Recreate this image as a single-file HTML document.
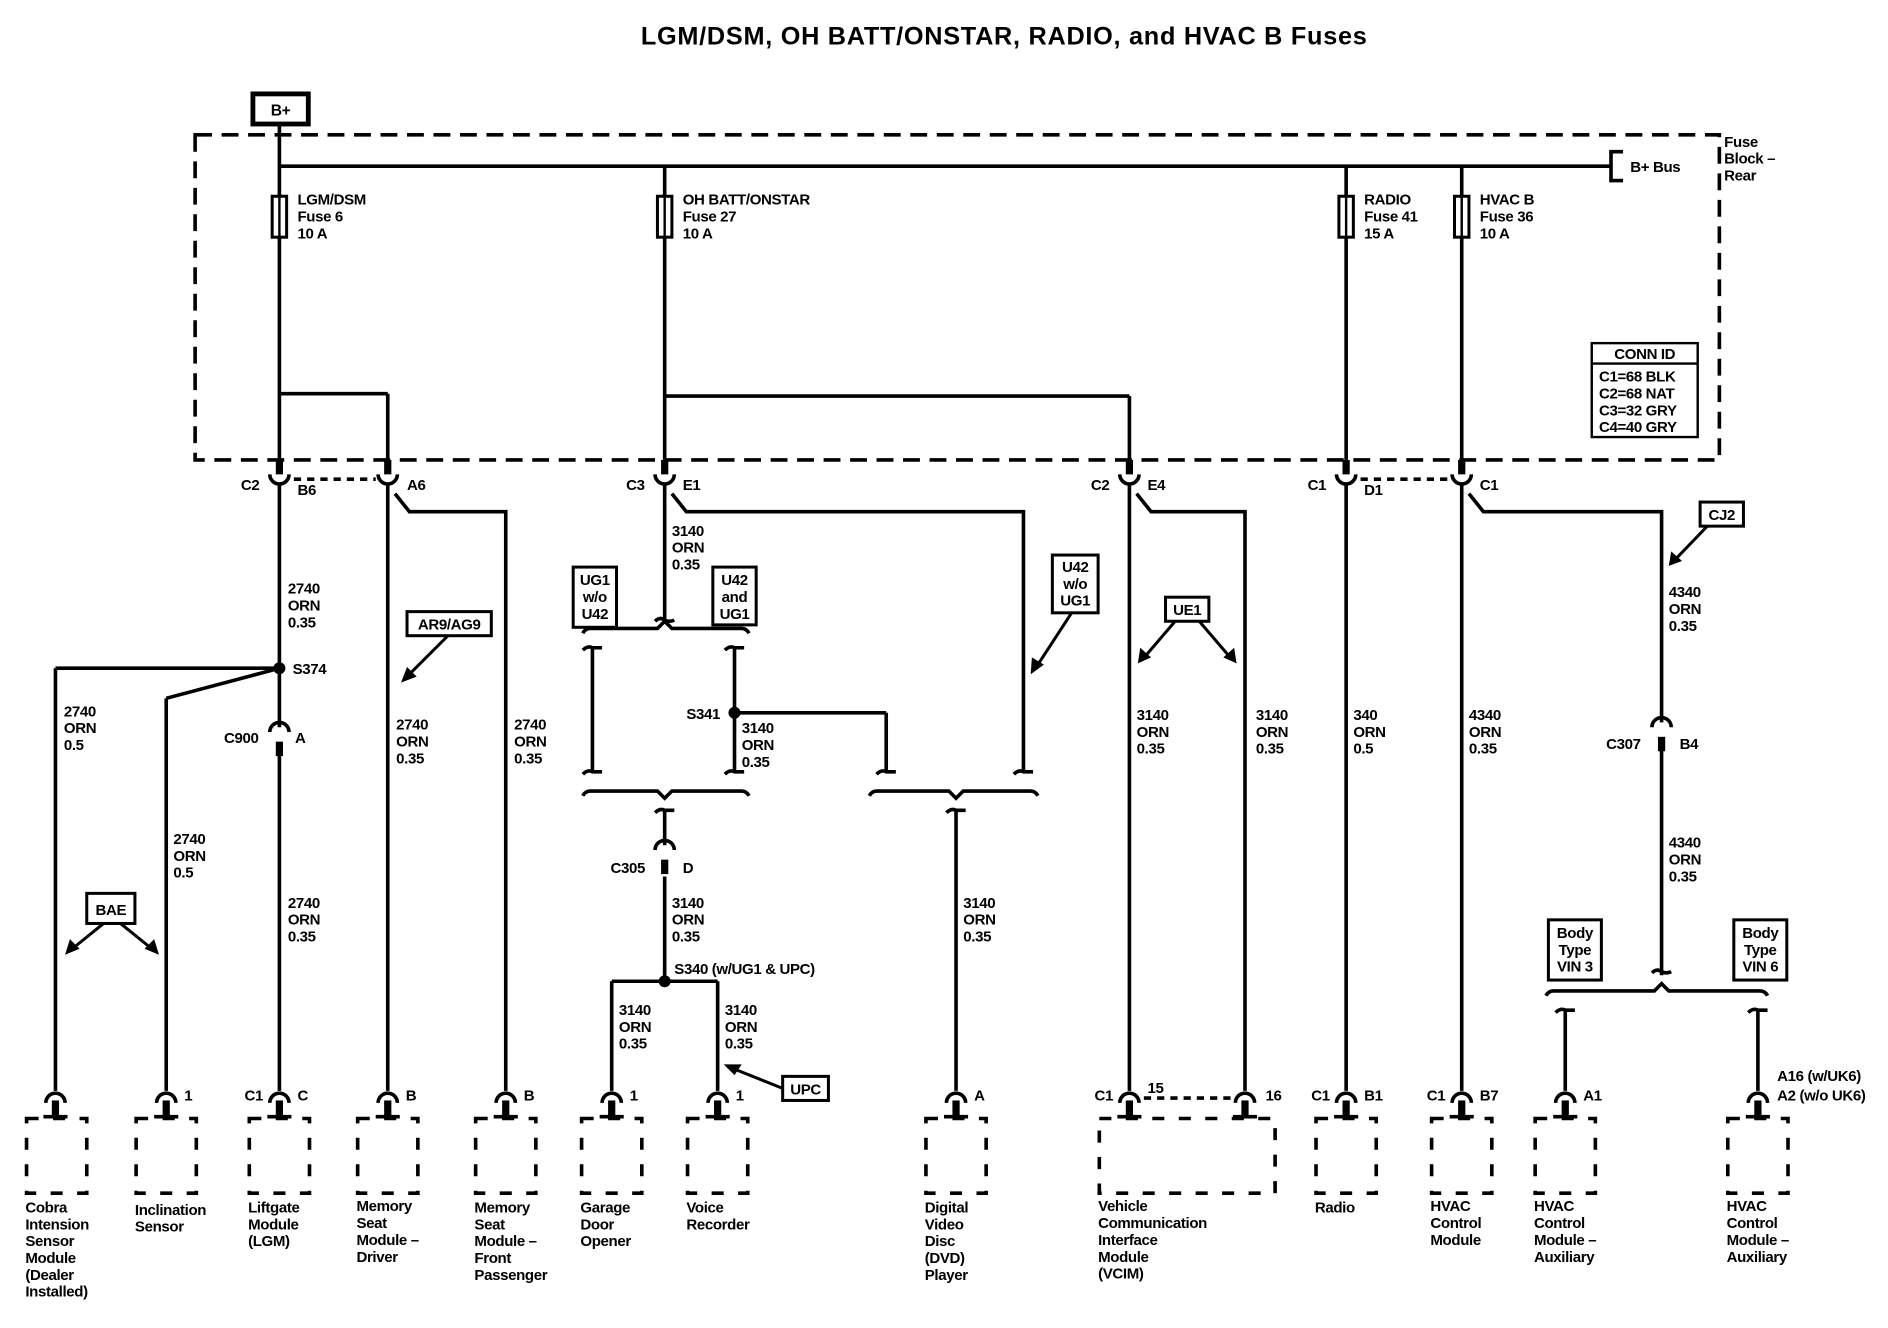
<!DOCTYPE html>
<html><head><meta charset="utf-8"><style>
html,body{margin:0;padding:0;background:#fff}
svg{display:block}
text{font-family:"Liberation Sans",Arial,sans-serif;font-size:12.5px;font-weight:bold;fill:#000;letter-spacing:-0.3px}
</style></head><body>
<svg width="1888" height="1328" viewBox="0 0 1568 1103" xmlns="http://www.w3.org/2000/svg">
<defs>
<g id="ct"><rect x="-3" y="-18" width="6" height="12" fill="#000"/><path d="M-8,-6 A8,8 0 0 0 8,-6" fill="none" stroke="#000" stroke-width="3"/></g>
<g id="cb"><path d="M-8,6 A8,8 0 0 1 8,6" fill="none" stroke="#000" stroke-width="3"/><rect x="-3" y="4" width="6" height="14" fill="#000"/><rect x="-10" y="16" width="20" height="3" fill="#000"/></g>
<g id="ci"><path d="M-8,-2 A8,8 0 0 1 8,-2" fill="none" stroke="#000" stroke-width="3"/><rect x="-3" y="6" width="6" height="12" fill="#000"/></g>
<g id="hk"><path d="M-8,-2 Q-4,-6 0,-3 L0,0 M0,-3 Q4,-1 8,-3" fill="none" stroke="#000" stroke-width="3"/></g>
<g id="hkd"><path d="M-8,3 Q-4,-1 0,1 L8,1" fill="none" stroke="#000" stroke-width="3"/></g>
</defs>
<g stroke="#000" stroke-width="3" fill="none">
<rect x="162" y="112" width="1266" height="270" stroke-dasharray="14 8"/>
<rect x="210" y="78" width="46" height="25" stroke-width="4"/>
<line x1="232" y1="103" x2="232" y2="382"/>
<line x1="232" y1="138" x2="1338" y2="138"/>
<path d="M1348,126 L1338,126 L1338,150 L1348,150"/>
<line x1="552" y1="138" x2="552" y2="382"/>
<line x1="1118" y1="138" x2="1118" y2="382"/>
<line x1="1214" y1="138" x2="1214" y2="382"/>
<line x1="232" y1="327" x2="322" y2="327"/><line x1="322" y1="327" x2="322" y2="382"/>
<line x1="552" y1="329" x2="938" y2="329"/><line x1="938" y1="329" x2="938" y2="382"/>
<rect x="1322" y="285" width="88" height="78" stroke-width="2"/>
<line x1="1322" y1="302" x2="1410" y2="302" stroke-width="2"/>
<line x1="244" y1="398" x2="312" y2="398" stroke-dasharray="6 5"/>
<line x1="1130" y1="398" x2="1204" y2="398" stroke-dasharray="6 5"/>
<line x1="950" y1="912" x2="1024" y2="912" stroke-dasharray="6 5"/>
<line x1="232" y1="402" x2="232" y2="604"/>
<line x1="232" y1="626" x2="232" y2="906"/>
<line x1="232" y1="555" x2="46" y2="555"/><line x1="46" y1="555" x2="46" y2="906"/>
<line x1="232" y1="555" x2="138" y2="580"/><line x1="138" y1="580" x2="138" y2="906"/>
<line x1="322" y1="402" x2="322" y2="906"/>
<path d="M328,410 L340,425 L420,425 L420,906"/>
<line x1="552" y1="402" x2="552" y2="514"/>
<path d="M558,410 L570,425 L850,425 L850,640"/>
<path d="M484,526 Q486,522 490,522 L546,522 L552,516 L558,522 L616,522 Q620,522 622,526"/>
<line x1="492" y1="537" x2="492" y2="640"/>
<line x1="610" y1="537" x2="610" y2="640"/>
<line x1="610" y1="592" x2="736" y2="592"/><line x1="736" y1="592" x2="736" y2="640"/>
<path d="M484,661 Q486,657 490,657 L546,657 L552,663 L558,657 L616,657 Q620,657 622,661"/>
<path d="M722,661 Q724,657 728,657 L788,657 L794,663 L800,657 L856,657 Q860,657 862,661"/>
<line x1="552" y1="672" x2="552" y2="702"/>
<line x1="552" y1="728" x2="552" y2="815"/>
<line x1="552" y1="815" x2="508" y2="815"/><line x1="508" y1="815" x2="508" y2="906"/>
<line x1="552" y1="815" x2="596" y2="815"/><line x1="596" y1="815" x2="596" y2="906"/>
<line x1="794" y1="672" x2="794" y2="906"/>
<line x1="938" y1="402" x2="938" y2="906"/>
<path d="M944,410 L956,425 L1034,425 L1034,906"/>
<line x1="1118" y1="402" x2="1118" y2="906"/>
<line x1="1214" y1="402" x2="1214" y2="906"/>
<path d="M1220,410 L1232,425 L1380,425 L1380,600"/>
<line x1="1380" y1="622" x2="1380" y2="806"/>
<path d="M1284,827 Q1286,823 1290,823 L1374,823 L1380,817 L1386,823 L1462,823 Q1466,823 1468,827"/>
<line x1="1300" y1="838" x2="1300" y2="906"/>
<line x1="1460" y1="838" x2="1460" y2="906"/>
<g stroke-width="2.5">
<rect x="72" y="742" width="40" height="25"/>
<rect x="338" y="508" width="70" height="20"/>
<rect x="476" y="471" width="36" height="50"/>
<rect x="592" y="471" width="36" height="48"/>
<rect x="874" y="461" width="38" height="48"/>
<rect x="968" y="496" width="36" height="20"/>
<rect x="1412" y="417" width="36" height="20"/>
<rect x="650" y="894" width="38" height="20"/>
<rect x="1286" y="764" width="44" height="50"/>
<rect x="1440" y="764" width="44" height="50"/>
</g>
<g stroke-width="2.5">
<line x1="86" y1="767" x2="60" y2="788"/><line x1="100" y1="767" x2="126" y2="788"/>
<line x1="372" y1="528" x2="340" y2="560"/>
<line x1="890" y1="509" x2="862" y2="552"/>
<line x1="976" y1="516" x2="952" y2="544"/><line x1="996" y1="516" x2="1020" y2="544"/>
<line x1="1418" y1="437" x2="1392" y2="464"/>
<line x1="650" y1="904" x2="610" y2="888"/>
</g>
<g stroke-width="3" stroke-dasharray="10 12">
<rect x="22" y="929" width="50" height="62"/>
<rect x="113" y="929" width="50" height="62"/>
<rect x="207" y="929" width="50" height="62"/>
<rect x="297" y="929" width="50" height="62"/>
<rect x="395" y="929" width="50" height="62"/>
<rect x="483" y="929" width="50" height="62"/>
<rect x="571" y="929" width="50" height="62"/>
<rect x="769" y="929" width="50" height="62"/>
<rect x="913" y="929" width="146" height="62"/>
<rect x="1093" y="929" width="50" height="62"/>
<rect x="1189" y="929" width="50" height="62"/>
<rect x="1275" y="929" width="50" height="62"/>
<rect x="1435" y="929" width="50" height="62"/>
</g>
</g>
<g fill="#fff" stroke="#000" stroke-width="2.5">
<rect x="226" y="163" width="12" height="34"/><rect x="546" y="163" width="12" height="34"/>
<rect x="1112" y="163" width="12" height="34"/><rect x="1208" y="163" width="12" height="34"/>
</g>
<g stroke="#000" stroke-width="2"><line x1="232" y1="163" x2="232" y2="197"/><line x1="552" y1="163" x2="552" y2="197"/><line x1="1118" y1="163" x2="1118" y2="197"/><line x1="1214" y1="163" x2="1214" y2="197"/></g>
<g fill="#000">
<polygon points="54,793 58,780 66,788"/><polygon points="132,793 120,788 128,780"/>
<polygon points="333,567 338,554 346,562"/>
<polygon points="856,560 857,546 867,552"/>
<polygon points="945,551 947,538 956,546"/><polygon points="1027,551 1016,546 1025,538"/>
<polygon points="1386,470 1388,458 1397,466"/>
<polygon points="601,884 616,884 610,893"/>
</g>
<g fill="#000"><circle cx="232" cy="555" r="5"/><circle cx="610" cy="592" r="5"/><circle cx="552" cy="815" r="5"/></g>
<use href="#ct" x="232" y="400"/><use href="#ct" x="322" y="400"/><use href="#ct" x="552" y="400"/><use href="#ct" x="938" y="400"/><use href="#ct" x="1118" y="400"/><use href="#ct" x="1214" y="400"/>
<use href="#ci" x="232" y="610"/><use href="#ci" x="1380" y="606"/><use href="#ci" x="552" y="708"/>
<use href="#hk" x="552" y="518"/><use href="#hk" x="1380" y="810"/>
<use href="#hkd" x="492" y="537"/><use href="#hkd" x="610" y="537"/><use href="#hkd" x="492" y="640"/><use href="#hkd" x="610" y="640"/><use href="#hkd" x="736" y="640"/><use href="#hkd" x="850" y="640"/>
<use href="#hkd" x="552" y="672"/><use href="#hkd" x="794" y="672"/><use href="#hkd" x="1300" y="838"/><use href="#hkd" x="1460" y="838"/>
<use href="#cb" x="46" y="910"/><use href="#cb" x="138" y="910"/><use href="#cb" x="232" y="910"/><use href="#cb" x="322" y="910"/><use href="#cb" x="420" y="910"/><use href="#cb" x="508" y="910"/><use href="#cb" x="596" y="910"/><use href="#cb" x="794" y="910"/><use href="#cb" x="938" y="910"/><use href="#cb" x="1034" y="910"/><use href="#cb" x="1118" y="910"/><use href="#cb" x="1214" y="910"/><use href="#cb" x="1300" y="910"/><use href="#cb" x="1460" y="910"/>
<text x="834" y="37" text-anchor="middle" style="font-size:21px;letter-spacing:0.6px">LGM/DSM, OH BATT/ONSTAR, RADIO, and HVAC B Fuses</text>
<text x="233" y="96" text-anchor="middle" style="font-size:13px">B+</text>
<text x="1354" y="143">B+ Bus</text>
<text x="1432" y="122">Fuse</text><text x="1432" y="136">Block –</text><text x="1432" y="150">Rear</text>
<text x="247" y="170">LGM/DSM</text><text x="247" y="184">Fuse 6</text><text x="247" y="198">10 A</text>
<text x="567" y="170">OH BATT/ONSTAR</text><text x="567" y="184">Fuse 27</text><text x="567" y="198">10 A</text>
<text x="1133" y="170">RADIO</text><text x="1133" y="184">Fuse 41</text><text x="1133" y="198">15 A</text>
<text x="1229" y="170">HVAC B</text><text x="1229" y="184">Fuse 36</text><text x="1229" y="198">10 A</text>
<text x="1366" y="298" text-anchor="middle">CONN ID</text>
<text x="1328" y="317">C1=68 BLK</text><text x="1328" y="331">C2=68 NAT</text><text x="1328" y="345">C3=32 GRY</text><text x="1328" y="359">C4=40 GRY</text>
<text x="200" y="407">C2</text><text x="247" y="411">B6</text><text x="338" y="407">A6</text>
<text x="520" y="407">C3</text><text x="567" y="407">E1</text>
<text x="906" y="407">C2</text><text x="953" y="407">E4</text>
<text x="1086" y="407">C1</text><text x="1133" y="411">D1</text><text x="1229" y="407">C1</text>
<text x="239" y="493">2740</text><text x="239" y="507">ORN</text><text x="239" y="521">0.35</text>
<text x="243" y="560">S374</text>
<text x="53" y="595">2740</text><text x="53" y="609">ORN</text><text x="53" y="623">0.5</text>
<text x="186" y="617">C900</text><text x="245" y="617">A</text>
<text x="144" y="701">2740</text><text x="144" y="715">ORN</text><text x="144" y="729">0.5</text>
<text x="239" y="754">2740</text><text x="239" y="768">ORN</text><text x="239" y="782">0.35</text>
<text x="92" y="760" text-anchor="middle">BAE</text>
<text x="373" y="523" text-anchor="middle">AR9/AG9</text>
<text x="329" y="606">2740</text><text x="329" y="620">ORN</text><text x="329" y="634">0.35</text>
<text x="427" y="606">2740</text><text x="427" y="620">ORN</text><text x="427" y="634">0.35</text>
<text x="558" y="445">3140</text><text x="558" y="459">ORN</text><text x="558" y="473">0.35</text>
<text x="494" y="486" text-anchor="middle">UG1</text><text x="494" y="500" text-anchor="middle">w/o</text><text x="494" y="514" text-anchor="middle">U42</text>
<text x="610" y="486" text-anchor="middle">U42</text><text x="610" y="500" text-anchor="middle">and</text><text x="610" y="514" text-anchor="middle">UG1</text>
<text x="893" y="475" text-anchor="middle">U42</text><text x="893" y="489" text-anchor="middle">w/o</text><text x="893" y="503" text-anchor="middle">UG1</text>
<text x="570" y="597">S341</text>
<text x="616" y="609">3140</text><text x="616" y="623">ORN</text><text x="616" y="637">0.35</text>
<text x="507" y="725">C305</text><text x="567" y="725">D</text>
<text x="558" y="754">3140</text><text x="558" y="768">ORN</text><text x="558" y="782">0.35</text>
<text x="560" y="809">S340 (w/UG1 &amp; UPC)</text>
<text x="514" y="843">3140</text><text x="514" y="857">ORN</text><text x="514" y="871">0.35</text>
<text x="602" y="843">3140</text><text x="602" y="857">ORN</text><text x="602" y="871">0.35</text>
<text x="669" y="909" text-anchor="middle">UPC</text>
<text x="800" y="754">3140</text><text x="800" y="768">ORN</text><text x="800" y="782">0.35</text>
<text x="986" y="511" text-anchor="middle">UE1</text>
<text x="944" y="598">3140</text><text x="944" y="612">ORN</text><text x="944" y="626">0.35</text>
<text x="1043" y="598">3140</text><text x="1043" y="612">ORN</text><text x="1043" y="626">0.35</text>
<text x="1124" y="598">340</text><text x="1124" y="612">ORN</text><text x="1124" y="626">0.5</text>
<text x="1220" y="598">4340</text><text x="1220" y="612">ORN</text><text x="1220" y="626">0.35</text>
<text x="1430" y="432" text-anchor="middle">CJ2</text>
<text x="1386" y="496">4340</text><text x="1386" y="510">ORN</text><text x="1386" y="524">0.35</text>
<text x="1334" y="622">C307</text><text x="1395" y="622">B4</text>
<text x="1386" y="704">4340</text><text x="1386" y="718">ORN</text><text x="1386" y="732">0.35</text>
<text x="1308" y="779" text-anchor="middle">Body</text><text x="1308" y="793" text-anchor="middle">Type</text><text x="1308" y="807" text-anchor="middle">VIN 3</text>
<text x="1462" y="779" text-anchor="middle">Body</text><text x="1462" y="793" text-anchor="middle">Type</text><text x="1462" y="807" text-anchor="middle">VIN 6</text>
<text x="153" y="914">1</text>
<text x="203" y="914">C1</text><text x="247" y="914">C</text>
<text x="337" y="914">B</text><text x="435" y="914">B</text>
<text x="523" y="914">1</text><text x="611" y="914">1</text><text x="809" y="914">A</text>
<text x="909" y="914">C1</text><text x="953" y="908">15</text><text x="1051" y="914">16</text>
<text x="1089" y="914">C1</text><text x="1133" y="914">B1</text>
<text x="1185" y="914">C1</text><text x="1229" y="914">B7</text>
<text x="1315" y="914">A1</text>
<text x="1476" y="898">A16 (w/UK6)</text><text x="1476" y="914">A2 (w/o UK6)</text>
<text x="21" y="1007">Cobra</text><text x="21" y="1021">Intension</text><text x="21" y="1035">Sensor</text><text x="21" y="1049">Module</text><text x="21" y="1063">(Dealer</text><text x="21" y="1077">Installed)</text>
<text x="112" y="1009">Inclination</text><text x="112" y="1023">Sensor</text>
<text x="206" y="1007">Liftgate</text><text x="206" y="1021">Module</text><text x="206" y="1035">(LGM)</text>
<text x="296" y="1006">Memory</text><text x="296" y="1020">Seat</text><text x="296" y="1034">Module –</text><text x="296" y="1048">Driver</text>
<text x="394" y="1007">Memory</text><text x="394" y="1021">Seat</text><text x="394" y="1035">Module –</text><text x="394" y="1049">Front</text><text x="394" y="1063">Passenger</text>
<text x="482" y="1007">Garage</text><text x="482" y="1021">Door</text><text x="482" y="1035">Opener</text>
<text x="570" y="1007">Voice</text><text x="570" y="1021">Recorder</text>
<text x="768" y="1007">Digital</text><text x="768" y="1021">Video</text><text x="768" y="1035">Disc</text><text x="768" y="1049">(DVD)</text><text x="768" y="1063">Player</text>
<text x="912" y="1006">Vehicle</text><text x="912" y="1020">Communication</text><text x="912" y="1034">Interface</text><text x="912" y="1048">Module</text><text x="912" y="1062">(VCIM)</text>
<text x="1092" y="1007">Radio</text>
<text x="1188" y="1006">HVAC</text><text x="1188" y="1020">Control</text><text x="1188" y="1034">Module</text>
<text x="1274" y="1006">HVAC</text><text x="1274" y="1020">Control</text><text x="1274" y="1034">Module –</text><text x="1274" y="1048">Auxiliary</text>
<text x="1434" y="1006">HVAC</text><text x="1434" y="1020">Control</text><text x="1434" y="1034">Module –</text><text x="1434" y="1048">Auxiliary</text>
</svg>
</body></html>
